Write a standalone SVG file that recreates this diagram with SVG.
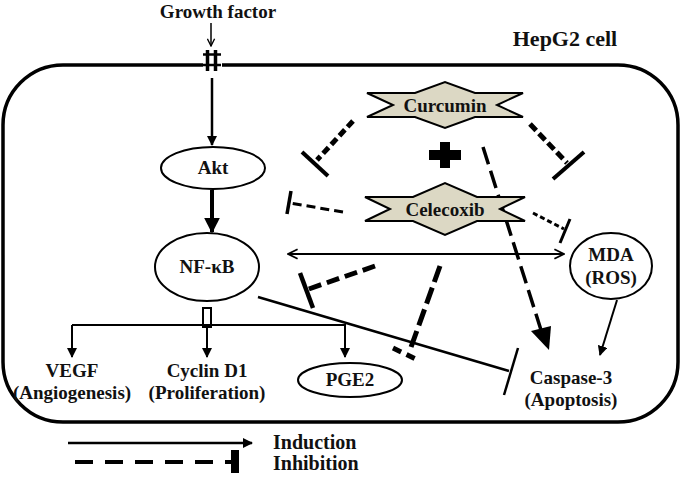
<svg xmlns="http://www.w3.org/2000/svg" width="685" height="484" viewBox="0 0 685 484" font-family="'Liberation Serif', 'DejaVu Serif', serif">
<defs>
<style>
text{font-family:'Liberation Serif','DejaVu Serif',serif;font-weight:bold;fill:#111;text-anchor:middle}
.lbl{font-size:19px}
.node{fill:#fff;stroke:#000;stroke-width:2}
.drug{fill:#dcd8c4;stroke:#000;stroke-width:2;stroke-linejoin:miter}
.ln{stroke:#000;fill:none}
</style>
<marker id="fa" viewBox="0 0 10 10" refX="9" refY="5" markerWidth="4" markerHeight="4" orient="auto" markerUnits="strokeWidth">
<path d="M0,0 L10,5 L0,10 Z" fill="#000"/>
</marker>
<marker id="fa2" viewBox="0 0 10 10" refX="9" refY="5" markerWidth="5" markerHeight="5" orient="auto" markerUnits="strokeWidth">
<path d="M0,0 L10,5 L0,10 Z" fill="#000"/>
</marker>
<marker id="oa" viewBox="0 0 10 10" refX="9" refY="5" markerWidth="6" markerHeight="6" orient="auto-start-reverse" markerUnits="strokeWidth">
<path d="M1,1 L9,5 L1,9" fill="none" stroke="#000" stroke-width="1.5"/>
</marker>
</defs>
<rect width="685" height="484" fill="#fff"/>

<g id="cell">
<rect x="3" y="65" width="675" height="357" rx="60" ry="60" fill="none" stroke="#000" stroke-width="3.5"/>
<text x="565" y="46" style="font-size:22px">HepG2 cell</text>
</g>

<g id="growth-factor">
<text x="218" y="18" style="font-size:19px">Growth factor</text>
</g>
<g id="receptor">
<rect x="203" y="50" width="19" height="20" fill="#fff"/>
<line x1="207.5" y1="50" x2="207.5" y2="71" stroke="#000" stroke-width="3.5"/>
<line x1="215.5" y1="50" x2="215.5" y2="71" stroke="#000" stroke-width="3.5"/>
<line x1="203" y1="54.5" x2="221" y2="54.5" stroke="#000" stroke-width="2.5"/>
<line x1="203" y1="65" x2="221" y2="65" stroke="#000" stroke-width="2.5"/>
</g>

<g id="connectors">
<line class="ln" x1="211" y1="23" x2="211" y2="46" stroke-width="1.5" marker-end="url(#oa)"/>
<line class="ln" x1="212" y1="78" x2="212" y2="145" stroke-width="2.5" marker-end="url(#fa)"/>
<line class="ln" x1="212" y1="190" x2="212" y2="232" stroke-width="4" marker-end="url(#fa)"/>
<line class="ln" x1="288" y1="254" x2="564" y2="254" stroke-width="2" marker-start="url(#oa)" marker-end="url(#oa)"/>
<rect x="203" y="308" width="8" height="19" fill="#fff" stroke="#000" stroke-width="2"/>
<line class="ln" x1="72" y1="325" x2="346" y2="325" stroke-width="1.8"/>
<line class="ln" x1="72" y1="325" x2="72" y2="357" stroke-width="2" marker-end="url(#fa2)"/>
<line class="ln" x1="207" y1="327" x2="207" y2="357" stroke-width="2" marker-end="url(#fa2)"/>
<line class="ln" x1="345" y1="325" x2="345" y2="357" stroke-width="2" marker-end="url(#fa2)"/>
<line class="ln" x1="258" y1="297" x2="509" y2="371" stroke-width="2.5"/>
<line class="ln" x1="518" y1="348" x2="504" y2="395" stroke-width="2.5"/>
<line class="ln" x1="617" y1="300" x2="600" y2="355" stroke-width="2" marker-end="url(#fa2)"/>
<line class="ln" x1="483" y1="147" x2="541" y2="330" stroke-width="3.5" stroke-dasharray="18 7"/>
<path d="M531,331 L551,326 L549,350 Z" fill="#000"/>
<line class="ln" x1="353" y1="121" x2="317" y2="160" stroke-width="5" stroke-dasharray="8 4"/>
<line class="ln" x1="302" y1="152" x2="328" y2="176" stroke-width="4"/>
<line class="ln" x1="530" y1="124" x2="567" y2="163" stroke-width="5" stroke-dasharray="9 4"/>
<line class="ln" x1="553" y1="179" x2="584" y2="152" stroke-width="4"/>
<line class="ln" x1="343" y1="212" x2="290" y2="203" stroke-width="3" stroke-dasharray="9 5"/>
<line class="ln" x1="291" y1="191" x2="287" y2="214" stroke-width="3.5"/>
<line class="ln" x1="533" y1="213" x2="564" y2="229" stroke-width="3" stroke-dasharray="5 3"/>
<line class="ln" x1="570" y1="219" x2="560" y2="243" stroke-width="3"/>
<line class="ln" x1="375" y1="266" x2="306" y2="290" stroke-width="5" stroke-dasharray="13 6"/>
<line class="ln" x1="300" y1="273" x2="313" y2="308" stroke-width="4.5"/>
<line class="ln" x1="440" y1="266" x2="410" y2="350" stroke-width="5" stroke-dasharray="17 6"/>
<line class="ln" x1="393" y1="348" x2="420" y2="361" stroke-width="5" stroke-dasharray="9 6"/>
</g>

<g id="akt">
<ellipse class="node" cx="213" cy="168" rx="52" ry="21"/>
<text x="213" y="174" class="lbl">Akt</text>
</g>
<g id="nfkb">
<ellipse class="node" cx="207" cy="267" rx="52" ry="34"/>
<text x="207" y="273" class="lbl">NF-κB</text>
</g>
<g id="mda">
<ellipse class="node" cx="611" cy="266" rx="41" ry="33"/>
<text x="611" y="261" class="lbl">MDA</text>
<text x="611" y="284" class="lbl">(ROS)</text>
</g>
<g id="curcumin">
<polygon class="drug" points="367,93 415,93 445,82 475,93 523,93 497,105 523,117 475,117 445,128 415,117 367,117 393,105"/>
<text x="445" y="112" class="lbl">Curcumin</text>
</g>
<g id="plus">
<path d="M440,142 H450 V150 H461 V160 H450 V168 H440 V160 H429 V150 H440 Z" fill="#000"/>
</g>
<g id="celecoxib">
<polygon class="drug" points="365,197 413,197 445,183 477,197 525,197 500,209 525,221 477,221 445,235 413,221 365,221 390,209"/>
<text x="445" y="216" class="lbl">Celecoxib</text>
</g>
<g id="vegf">
<text x="72" y="377" class="lbl">VEGF</text>
<text x="72" y="399" class="lbl">(Angiogenesis)</text>
</g>
<g id="cyclin">
<text x="207" y="377" class="lbl">Cyclin D1</text>
<text x="207" y="399" class="lbl">(Proliferation)</text>
</g>
<g id="pge2">
<ellipse class="node" cx="350" cy="380" rx="52" ry="17"/>
<text x="350" y="386" class="lbl">PGE2</text>
</g>
<g id="caspase">
<text x="571" y="384" class="lbl">Caspase-3</text>
<text x="571" y="406" class="lbl">(Apoptosis)</text>
</g>

<g id="legend">
<line class="ln" x1="68" y1="443" x2="252" y2="443" stroke-width="2.5" marker-end="url(#fa)"/>
<text x="273" y="449" style="font-size:20px;text-anchor:start">Induction</text>
<line class="ln" x1="75" y1="462" x2="234" y2="462" stroke-width="4" stroke-dasharray="18 12"/>
<rect x="231" y="450" width="8" height="23" fill="#000"/>
<text x="273" y="470" style="font-size:20px;text-anchor:start">Inhibition</text>
</g>
</svg>
